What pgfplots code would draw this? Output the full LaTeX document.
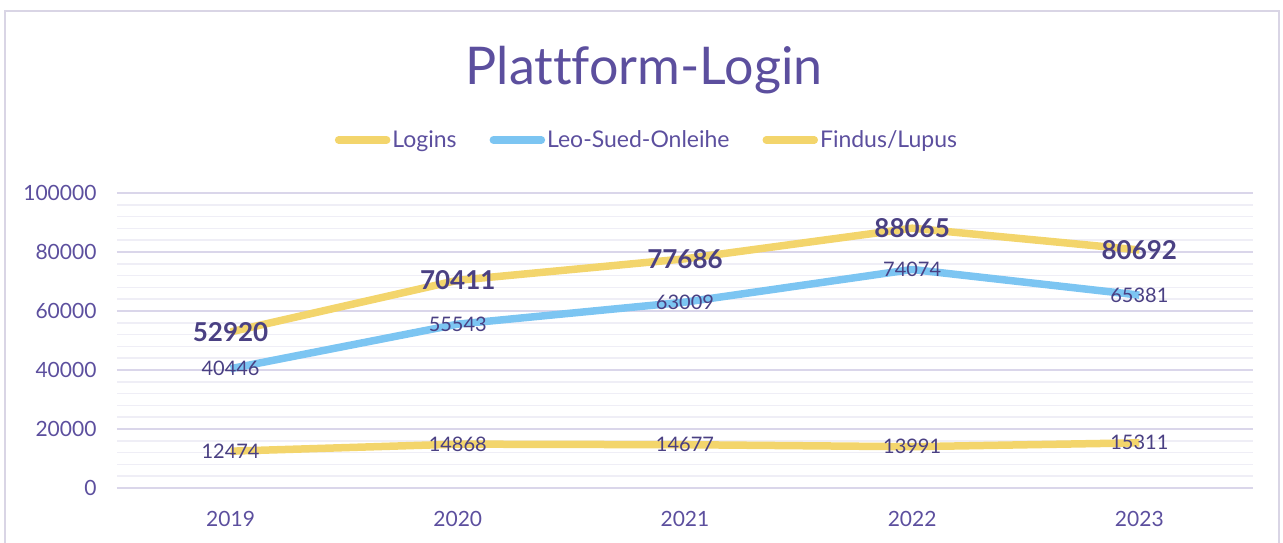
\documentclass[border=0pt]{standalone}
\usepackage{pgfplots}
\pgfplotsset{compat=1.18}
\usepackage{fontspec}
\setmainfont{Lato}[Ligatures={NoCommon}]
\definecolor{yel}{HTML}{F3D56C}
\definecolor{blu}{HTML}{7CC5F2}
\definecolor{txt}{HTML}{5C4F9E}
\definecolor{lab}{HTML}{4A4083}
\definecolor{gmaj}{HTML}{DAD6EA}
\definecolor{gmin}{HTML}{EFEEF6}
\definecolor{framec}{HTML}{D9D5E5}
\begin{document}
\begin{tikzpicture}[x=1pt,y=1pt]
\useasboundingbox (0,0) rectangle (1283,543);
\draw[framec, line width=1.5pt] (5,-5) -- (5,532) -- (1279,532) -- (1279,-5);
\node[text=txt, font=\fontsize{52}{62}\selectfont, anchor=base, inner sep=0pt] at (644,458) {Plattform-Login};
\begin{axis}[
  at={(117pt,55pt)}, anchor=south west,
  width=1136pt, height=295pt, scale only axis,
  xmin=-0.5, xmax=4.5, ymin=0, ymax=100000,
  xtick={0,1,2,3,4}, xticklabels={2019,2020,2021,2022,2023},
  ytick={0,20000,40000,60000,80000,100000},
  yticklabels={0,20000,40000,60000,80000,100000},
  minor y tick num=4,
  ymajorgrids, yminorgrids,
  major grid style={gmaj, line width=1.6pt},
  minor grid style={gmin, line width=1.6pt},
  axis line style={draw=none},
  tick style={draw=none},
  scaled y ticks=false,
  tick label style={font=\fontsize{21}{25}\selectfont, text=txt},
  y tick label style={xshift=-17pt},
  x tick label style={yshift=-20pt},
  clip=false,
  legend style={at={(0.5,1)}, anchor=center, xshift=-38pt, yshift=53pt,
    draw=none, fill=none, font=\fontsize{23}{27}\selectfont, text=txt,
    /tikz/every even column/.append style={column sep=31pt}},
  legend columns=3,
  legend image code/.code={\draw[#1, line cap=round] (0pt,0pt) -- (48pt,0pt);},
  point meta=explicit symbolic,
  nodes near coords={\pgfplotspointmeta},
]
\addplot[yel, line width=7.5pt, line join=round,
  every node near coord/.style={anchor=center, font=\bfseries\fontsize{26}{30}\selectfont, text=lab}]
  coordinates {(0,52920)[52920] (1,70411)[70411] (2,77686)[77686] (3,88065)[88065] (4,80692)[80692]};
\addlegendentry{Logins}
\addplot[blu, line width=7.5pt, line join=round,
  every node near coord/.style={anchor=center, font=\fontsize{20}{24}\selectfont, text=lab}]
  coordinates {(0,40446)[40446] (1,55543)[55543] (2,63009)[63009] (3,74074)[74074] (4,65381)[65381]};
\addlegendentry{Leo-Sued-Onleihe}
\addplot[yel, line width=7.5pt, line join=round,
  every node near coord/.style={anchor=center, font=\fontsize{20}{24}\selectfont, text=lab}]
  coordinates {(0,12474)[12474] (1,14868)[14868] (2,14677)[14677] (3,13991)[13991] (4,15311)[15311]};
\addlegendentry{Findus/Lupus}
\end{axis}
\end{tikzpicture}
\end{document}
